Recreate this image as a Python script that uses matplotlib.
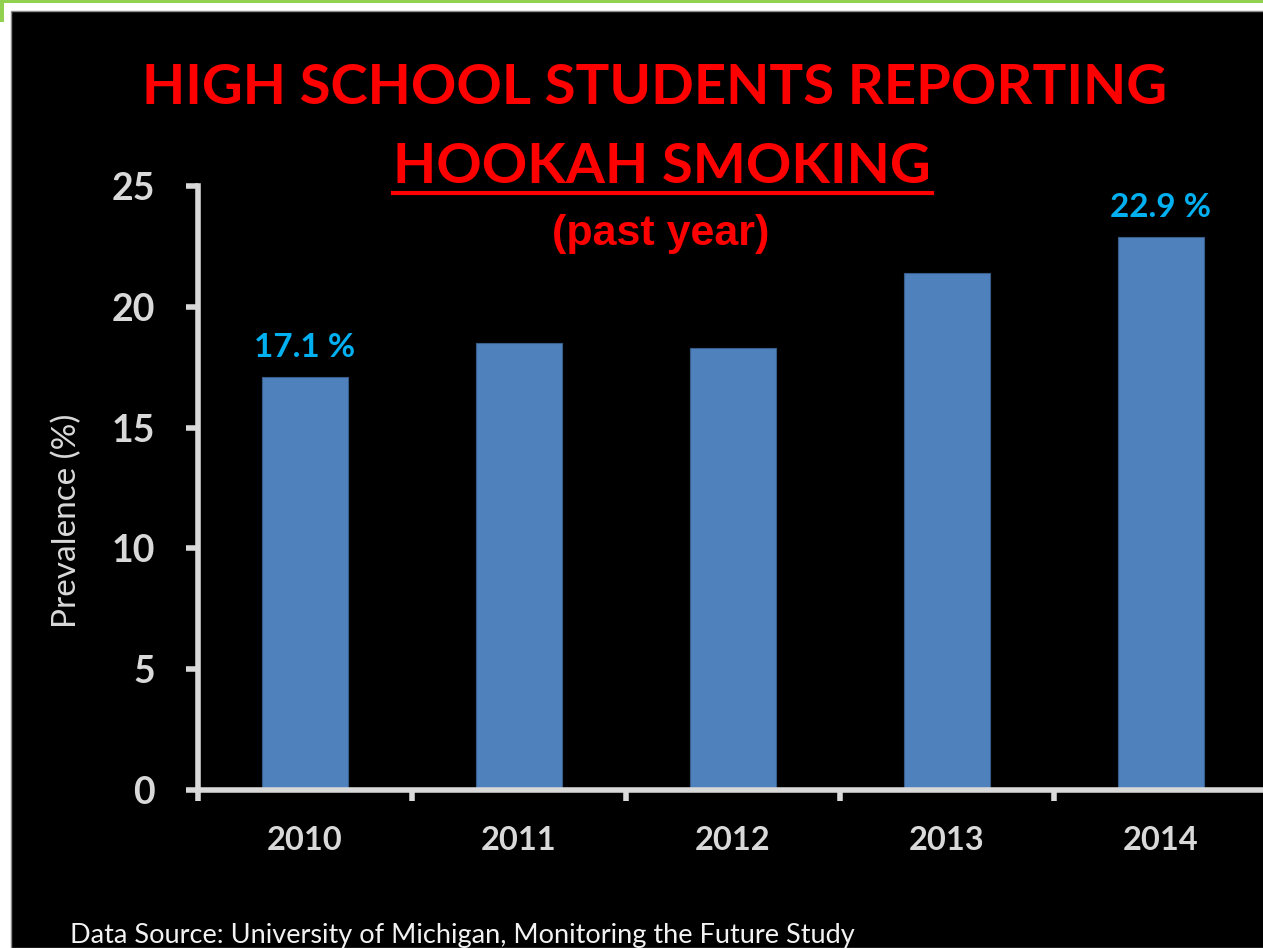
import matplotlib.pyplot as plt
from matplotlib.patches import Rectangle
from matplotlib.lines import Line2D
from matplotlib.ticker import FixedLocator, NullFormatter

# Datos: prevalencia anual de uso de narguile (hookah), estudiantes de secundaria
years = ['2010', '2011', '2012', '2013', '2014']
prevalence = [17.1, 18.5, 18.3, 21.4, 22.9]
labelled_years = ['2010', '2014']
yticks = [0, 5, 10, 15, 20, 25]

W, H = 1263, 948
fig = plt.figure(figsize=(W / 100, H / 100), dpi=100, facecolor='white')

def fx(px):
    return px / W

def fy(py):
    return 1 - py / H

# Marco de la diapositiva: franjas verdes y fondo negro (detrás de los ejes)
fig.add_artist(Rectangle((0, fy(3)), 1, fy(0) - fy(3), transform=fig.transFigure,
                         facecolor='#92D050', edgecolor='none', zorder=-2))
fig.add_artist(Rectangle((0, fy(22)), fx(4), fy(0) - fy(22), transform=fig.transFigure,
                         facecolor='#92D050', edgecolor='none', zorder=-2))
fig.add_artist(Rectangle((fx(11), 0), 1, fy(11), transform=fig.transFigure,
                         facecolor='black', edgecolor='#8C8C8C', linewidth=1, zorder=-1))

axis_color = '#D9D9D9'
ax = fig.add_axes([fx(198), fy(790), fx(1268) - fx(198), fy(186) - fy(790)])
ax.set_facecolor('none')

x = range(len(years))
ax.bar(x, prevalence, width=0.4, color='#4F81BD', edgecolor='#385D8A', linewidth=0.8, zorder=2)

for i, (yr, v) in enumerate(zip(years, prevalence)):
    if yr in labelled_years:
        ax.annotate(f'{v} %', xy=(i, v), xytext=(0, 14), textcoords='offset points',
                    ha='center', va='baseline', color='#00B0F0', fontsize=24,
                    fontweight='bold', family='Lato')

ax.set_xlim(-0.5, len(years) - 0.5)
ax.set_ylim(0, 25)

for side in ['top', 'right']:
    ax.spines[side].set_visible(False)
for side in ['left', 'bottom']:
    ax.spines[side].set_color(axis_color)
    ax.spines[side].set_linewidth(4)
    ax.spines[side].set_capstyle('projecting')

ax.set_yticks(yticks)
ax.set_yticklabels([str(t) for t in yticks])
ax.tick_params(axis='y', length=9, width=4, color=axis_color, pad=22,
               labelsize=27, labelcolor=axis_color)

ax.set_xticks(list(x))
ax.set_xticklabels(years)
ax.xaxis.set_minor_locator(FixedLocator([i - 0.5 for i in range(len(years) + 1)]))
ax.xaxis.set_minor_formatter(NullFormatter())
ax.tick_params(axis='x', which='major', length=0, pad=26, labelsize=23.5, labelcolor=axis_color)
ax.tick_params(axis='x', which='minor', length=8, width=4, color=axis_color)

for lab in ax.get_xticklabels() + ax.get_yticklabels():
    lab.set_fontweight('bold')
    lab.set_family('Lato')

# Títulos
red = '#FF0000'
fig.text(fx(655), fy(104), 'HIGH SCHOOL STUDENTS REPORTING', ha='center', va='baseline',
         color=red, fontsize=40.5, fontweight='bold', family='Lato')
fig.text(fx(662), fy(183), 'HOOKAH SMOKING', ha='center', va='baseline',
         color=red, fontsize=40.5, fontweight='bold', family='Lato')
fig.add_artist(Line2D([fx(393), fx(932)], [fy(193), fy(193)], transform=fig.transFigure,
                      color=red, linewidth=3))
fig.text(fx(661), fy(245), '(past year)', ha='center', va='baseline',
         color=red, fontsize=31, fontweight='bold', family='Liberation Sans')

fig.text(fx(67), fy(521), 'Prevalence (%)', rotation=90, ha='center', va='center',
         color=axis_color, fontsize=24, family='Lato')

fig.text(fx(70), fy(943), 'Data Source: University of Michigan, Monitoring the Future Study',
         ha='left', va='baseline', color='#F2F2F2', fontsize=19.5, family='Lato')

fig.savefig('out.png', dpi=100, facecolor='white')
